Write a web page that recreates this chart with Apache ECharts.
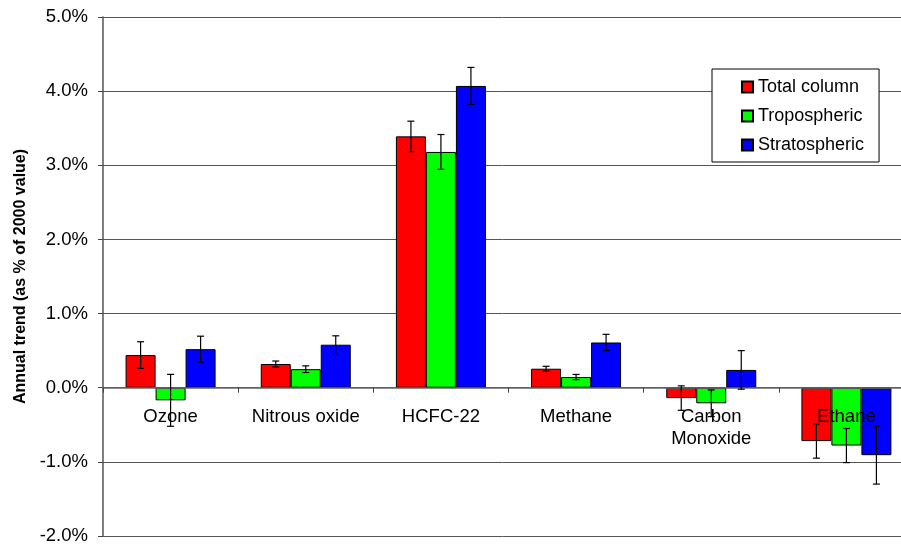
<!DOCTYPE html>
<html>
<head>
<meta charset="utf-8">
<script src="https://cdn.jsdelivr.net/npm/echarts@6/dist/echarts.min.js"></script>
<style>
html,body{margin:0;padding:0;background:#fff;}
#c{width:901px;height:544px;}
</style>
</head>
<body>
<div id="c"></div>
<script>
var categories = ['Ozone', 'Nitrous oxide', 'HCFC-22', 'Methane', 'Carbon\nMonoxide', 'Ethane'];
var seriesNames = ['Total column', 'Tropospheric', 'Stratospheric'];
var totalColumn   = [0.44, 0.32, 3.39, 0.256, -0.14, -0.72];
var tropospheric  = [-0.17, 0.25, 3.18, 0.144, -0.21, -0.78];
var stratospheric = [0.52, 0.58, 4.07, 0.61, 0.24, -0.91];
var totalErr  = [0.18, 0.04, 0.205, 0.033, 0.165, 0.23];
var tropoErr  = [0.35, 0.045, 0.235, 0.035, 0.18, 0.23];
var stratoErr = [0.175, 0.12, 0.25, 0.11, 0.26, 0.39];
var yTicks = [-2, -1, 0, 1, 2, 3, 4, 5];

var values = [totalColumn, tropospheric, stratospheric];
var errors = [totalErr, tropoErr, stratoErr];
var colors = ['#ff0000', '#00ff00', '#0000ff'];
var BAR_W = 30;
var FONT = 'Liberation Sans, Arial, sans-serif';
var GRID_TOP = 17, GRID_BOTTOM = 8, H = 544;
var yMin = yTicks[0], yMax = yTicks[yTicks.length - 1];
// distance (px) from grid bottom up to the zero line, used to place category labels
var plotH = H - GRID_TOP - GRID_BOTTOM;
var zeroOffset = plotH * (0 - yMin) / (yMax - yMin);

var chart = echarts.init(document.getElementById('c'), null, {renderer: 'canvas'});

var series = [];
values.forEach(function (vals, s) {
  series.push({
    name: seriesNames[s],
    type: 'bar',
    data: vals,
    barWidth: BAR_W,
    barGap: '0%',
    itemStyle: {color: colors[s], borderColor: '#000', borderWidth: 1},
    z: 2
  });
});
values.forEach(function (vals, s) {
  var errData = vals.map(function (v, i) { return [i, v - errors[s][i], v + errors[s][i]]; });
  series.push({
    type: 'custom',
    name: seriesNames[s] + ' error',
    data: errData,
    encode: {x: 0, y: [1, 2]},
    z: 5,
    silent: true,
    renderItem: (function (sIdx) {
      return function (params, api) {
        var lo = api.coord([api.value(0), api.value(1)]);
        var hi = api.coord([api.value(0), api.value(2)]);
        var x = lo[0] + (sIdx - 1) * BAR_W;
        var cap = 3.5;
        var st = {stroke: '#000', lineWidth: 1.2};
        return {
          type: 'group',
          children: [
            {type: 'line', shape: {x1: x, y1: lo[1], x2: x, y2: hi[1]}, style: st},
            {type: 'line', shape: {x1: x - cap, y1: lo[1], x2: x + cap, y2: lo[1]}, style: st},
            {type: 'line', shape: {x1: x - cap, y1: hi[1], x2: x + cap, y2: hi[1]}, style: st}
          ]
        };
      };
    })(s)
  });
});

chart.setOption({
  animation: false,
  backgroundColor: '#fff',
  textStyle: {fontFamily: FONT},
  grid: {left: 103, top: GRID_TOP, bottom: GRID_BOTTOM, right: -13, containLabel: false, outerBoundsMode: 'none'},
  legend: {
    data: seriesNames,
    orient: 'vertical',
    left: 712,
    top: 69,
    backgroundColor: '#fff',
    borderColor: '#000',
    borderWidth: 1,
    padding: [9, 15, 8, 29],
    itemWidth: 11,
    itemHeight: 11,
    itemGap: 11,
    icon: 'rect',
    textStyle: {fontSize: 18, color: '#000', fontFamily: FONT},
    z: 10
  },
  xAxis: [{
    type: 'category',
    data: categories,
    z: 3,
    axisLine: {onZero: true, lineStyle: {color: '#666', width: 1.5}},
    axisTick: {show: true, length: 5, lineStyle: {color: '#444'}},
    axisLabel: {show: false},
    splitLine: {show: false}
  }, {
    type: 'category',
    data: categories,
    position: 'bottom',
    offset: -zeroOffset,
    z: 10,
    axisLine: {show: false, onZero: false},
    axisTick: {show: false},
    axisLabel: {interval: 0, margin: 18, fontSize: 18.5, color: '#000', lineHeight: 22, fontFamily: FONT},
    splitLine: {show: false}
  }],
  yAxis: {
    type: 'value',
    min: yMin,
    max: yMax,
    interval: 1,
    name: 'Annual trend (as % of 2000 value)',
    nameLocation: 'middle',
    nameRotate: 90,
    nameGap: 74,
    nameTextStyle: {fontSize: 16, fontWeight: 'bold', color: '#000', fontFamily: FONT},
    axisLine: {show: true, lineStyle: {color: '#555', width: 1.5}},
    axisTick: {show: true, length: 5, lineStyle: {color: '#444'}},
    axisLabel: {margin: 15, fontSize: 18.5, color: '#000', fontFamily: FONT,
      formatter: function (v) { return v.toFixed(1) + '%'; }},
    splitLine: {show: true, lineStyle: {color: '#555', width: 1}}
  },
  series: series
});
</script>
</body>
</html>
